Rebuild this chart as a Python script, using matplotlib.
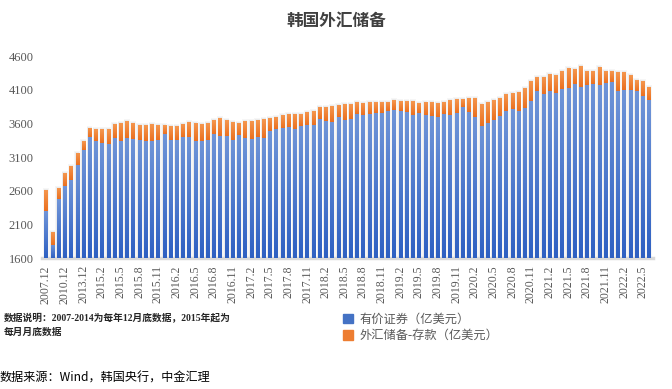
import numpy as np
import matplotlib
matplotlib.use("Agg")
import matplotlib.pyplot as plt
from matplotlib.colors import LinearSegmentedColormap

plt.rcParams["font.family"] = ["Liberation Serif", "Noto Sans CJK SC", "DejaVu Sans"]

# 类别: 2007-2014 年末, 2015 起月末
dates = ["2007.12", "2008.12", "2009.12", "2010.12", "2011.12", "2012.12", "2013.12", "2014.12"]
dates += ["%d.%d" % (y, m) for y in range(2015, 2023) for m in range(1, 13)]
dates = dates[:98]  # 截止 2022.6

# 有价证券（亿美元）
securities = [2297, 1793, 2475, 2677, 2761, 2984, 3211, 3394,
              3340, 3310, 3300, 3389, 3340, 3389, 3369, 3359, 3340, 3340, 3359, 3448,
              3359, 3359, 3399, 3399, 3340, 3340, 3359, 3448, 3418, 3418, 3359, 3428,
              3389, 3369, 3399, 3389, 3488, 3517, 3537, 3540, 3517, 3567, 3577, 3577,
              3666, 3636, 3626, 3695, 3656, 3666, 3745, 3725, 3745, 3755, 3755, 3784,
              3804, 3784, 3774, 3725, 3755, 3725, 3715, 3695, 3745, 3725, 3755, 3844,
              3774, 3695, 3567, 3607, 3656, 3715, 3784, 3814, 3784, 3834, 3938, 4086,
              4036, 4086, 4056, 4115, 4125, 4185, 4145, 4175, 4185, 4175, 4204, 4214,
              4086, 4096, 4096, 4086, 4007, 3947]
# 外汇储备-存款（亿美元）
deposits = [316, 197, 168, 188, 208, 178, 129, 138,
            177, 207, 217, 203, 267, 247, 238, 218, 237, 252, 218, 129,
            203, 203, 193, 222, 267, 252, 248, 203, 263, 233, 262, 179,
            247, 267, 252, 277, 193, 178, 188, 200, 223, 173, 193, 207,
            178, 208, 232, 178, 232, 222, 173, 178, 173, 163, 163, 134,
            143, 148, 158, 207, 148, 193, 203, 208, 173, 222, 207, 118,
            203, 282, 321, 311, 291, 262, 252, 237, 282, 291, 291, 203,
            253, 247, 262, 262, 297, 222, 307, 202, 192, 262, 173, 163,
            277, 267, 222, 158, 222, 193]

yticks = [1600, 2100, 2600, 3100, 3600, 4100, 4600]
base = 1600

sec = np.array(securities)
dep = np.array(deposits)
x = np.arange(len(dates))
w = 0.5

fig = plt.figure(figsize=(6.72, 3.89), dpi=100)
ax = fig.add_axes([0.0625, 0.336, 0.909, 0.52])

# 柱子阴影
ax.bar(x, sec + dep - base + 25, bottom=base, width=0.95, color="#f6f6f6", zorder=1)
ax.bar(x, sec + dep - base + 10, bottom=base, width=0.75, color="#ebebeb", zorder=1)

def grad_fill(bars, c_bot, c_top):
    cmap = LinearSegmentedColormap.from_list("g", [c_bot, c_top])
    g = np.linspace(0, 1, 64).reshape(-1, 1)
    for p in bars:
        x0, y0 = p.get_x(), p.get_y()
        im = ax.imshow(g, cmap=cmap, origin="lower", aspect="auto",
                       extent=(x0, x0 + p.get_width(), y0, y0 + p.get_height()),
                       zorder=3)
        im.set_clip_path(p)
        p.set_facecolor("none")

b1 = ax.bar(x, sec - base, bottom=base, width=w, color="#4472C4", zorder=3,
            label="有价证券（亿美元）", linewidth=0)
b2 = ax.bar(x, dep, bottom=sec, width=w, color="#ED7D31", zorder=3,
            label="外汇储备-存款（亿美元）", linewidth=0)
grad_fill(b1, "#2e60c2", "#7095d8")
grad_fill(b2, "#ea7020", "#f5974f")

ax.set_xlim(-0.64, len(dates) - 0.36)
ax.set_ylim(1600, 4600)
ax.set_yticks(yticks)
ax.set_yticklabels([str(v) for v in yticks], fontsize=9, color="#595959")
ax.set_xticks(x[::3])
ax.set_xticklabels(dates[::3], rotation=90, fontsize=8.5, color="#595959")
ax.tick_params(axis="both", length=0)
ax.tick_params(axis="y", pad=6)
ax.tick_params(axis="x", pad=5)
for s in ["top", "right", "left"]:
    ax.spines[s].set_visible(False)
ax.spines["bottom"].set_color("#d9d9d9")
ax.spines["bottom"].set_linewidth(2.5)

fig.text(0.5, 0.948, "韩国外汇储备", ha="center", va="center", fontsize=12,
         fontweight="bold", color="#404040", family=["Noto Sans CJK SC"])

h1 = plt.Rectangle((0, 0), 1, 1, color="#4472C4")
h2 = plt.Rectangle((0, 0), 1, 1, color="#ED7D31")
leg = fig.legend([h1, h2], ["有价证券（亿美元）", "外汇储备-存款（亿美元）"],
                 loc="upper left", bbox_to_anchor=(0.498, 0.215), frameon=False,
                 fontsize=8.8, handlelength=0.8, handleheight=0.8,
                 handletextpad=0.5, labelspacing=0.35, borderpad=0.2)
for t in leg.get_texts():
    t.set_color("#595959")

fig.text(0.006, 0.165, "数据说明：2007-2014为每年12月底数据，2015年起为\n每月月底数据",
         ha="left", va="center", fontsize=7, color="#262626", linespacing=1.6,
         fontweight="bold")
fig.text(0.0, 0.028, "数据来源：Wind，韩国央行，中金汇理", ha="left", va="center",
         fontsize=8.7, color="black", family=["Noto Sans CJK SC"])

fig.savefig("out.png", dpi=100)
